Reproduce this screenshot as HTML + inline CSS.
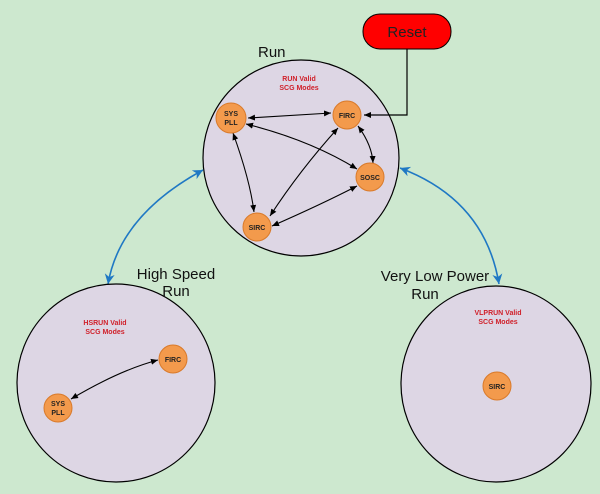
<!DOCTYPE html>
<html><head><meta charset="utf-8"><style>
html,body{margin:0;padding:0;background:#cde8cf;}
svg{display:block;font-family:"Liberation Sans",sans-serif;}
</style></head><body>
<svg width="600" height="494" viewBox="0 0 600 494" xmlns="http://www.w3.org/2000/svg">
<defs>
<marker id="a" markerWidth="8" markerHeight="8" refX="7" refY="4" orient="auto-start-reverse" markerUnits="userSpaceOnUse"><path d="M0,1 L7,4 L0,7 Z" fill="#000"/></marker>
<marker id="b" markerWidth="12" markerHeight="12" refX="10" refY="6" orient="auto-start-reverse" markerUnits="userSpaceOnUse"><path d="M0,1 L10,6 L0,11 L3,6 Z" fill="#1f78c4"/></marker>
</defs>
<rect width="600" height="494" fill="#cde8cf"/>
<!-- Run -->
<ellipse cx="301" cy="158" rx="98" ry="98" fill="#ddd6e4" stroke="#000" stroke-width="1.2"/>
<text x="258" y="57" font-size="15" fill="#111">Run</text>
<text x="299" y="81" font-size="7" font-weight="bold" fill="#d0202a" text-anchor="middle">RUN Valid</text>
<text x="299" y="90" font-size="7" font-weight="bold" fill="#d0202a" text-anchor="middle">SCG Modes</text>
<!-- Reset -->
<rect x="363" y="14" width="88" height="35" rx="17" fill="#ff0000" stroke="#000" stroke-width="1"/>
<text x="407" y="37" font-size="15" fill="#222" text-anchor="middle">Reset</text>
<path d="M407,49 V115 H364" fill="none" stroke="#000" stroke-width="1.2" marker-end="url(#a)"/>
<!-- arrows in run -->
<g fill="none" stroke="#000" stroke-width="1.1" marker-start="url(#a)" marker-end="url(#a)">
<path d="M248,118 L331,113"/>
<path d="M246,124 Q310,140 357,169"/>
<path d="M233,133 Q250,180 254,212"/>
<path d="M358,126 Q372,145 373,163"/>
<path d="M338,128 Q300,170 270,216"/>
<path d="M272,226 Q320,205 357,186"/>
</g>
<g fill="#f39a4c" stroke="#d97a2a" stroke-width="1">
<circle cx="231" cy="118" r="15"/><circle cx="347" cy="115" r="14"/>
<circle cx="370" cy="177" r="14"/><circle cx="257" cy="227" r="14"/>
</g>
<g font-size="7" font-weight="bold" fill="#222" text-anchor="middle">
<text x="231" y="116">SYS</text><text x="231" y="125">PLL</text>
<text x="347" y="118">FIRC</text><text x="370" y="180">SOSC</text><text x="257" y="230">SIRC</text>
</g>
<!-- blue arrows -->
<path d="M203,170 Q120,215 108,284" fill="none" stroke="#1f78c4" stroke-width="1.6" marker-start="url(#b)" marker-end="url(#b)"/>
<path d="M400,168 Q485,200 499,284" fill="none" stroke="#1f78c4" stroke-width="1.6" marker-start="url(#b)" marker-end="url(#b)"/>
<!-- HS -->
<ellipse cx="116" cy="383" rx="99" ry="99" fill="#ddd6e4" stroke="#000" stroke-width="1.2"/>
<text x="176" y="279" font-size="15" fill="#111" text-anchor="middle">High Speed</text>
<text x="176" y="296" font-size="15" fill="#111" text-anchor="middle">Run</text>
<text x="105" y="325" font-size="7" font-weight="bold" fill="#d0202a" text-anchor="middle">HSRUN Valid</text>
<text x="105" y="334" font-size="7" font-weight="bold" fill="#d0202a" text-anchor="middle">SCG Modes</text>
<path d="M71,399 Q120,370 158,360" fill="none" stroke="#000" stroke-width="1.1" marker-start="url(#a)" marker-end="url(#a)"/>
<g fill="#f39a4c" stroke="#d97a2a"><circle cx="173" cy="359" r="14"/><circle cx="58" cy="408" r="14"/></g>
<g font-size="7" font-weight="bold" fill="#222" text-anchor="middle">
<text x="173" y="362">FIRC</text><text x="58" y="406">SYS</text><text x="58" y="415">PLL</text></g>
<!-- VLP -->
<ellipse cx="496" cy="384" rx="95" ry="98" fill="#ddd6e4" stroke="#000" stroke-width="1.2"/>
<text x="435" y="281" font-size="15" fill="#111" text-anchor="middle">Very Low Power</text>
<text x="425" y="299" font-size="15" fill="#111" text-anchor="middle">Run</text>
<text x="498" y="315" font-size="7" font-weight="bold" fill="#d0202a" text-anchor="middle">VLPRUN Valid</text>
<text x="498" y="324" font-size="7" font-weight="bold" fill="#d0202a" text-anchor="middle">SCG Modes</text>
<circle cx="497" cy="386" r="14" fill="#f39a4c" stroke="#d97a2a"/>
<text x="497" y="389" font-size="7" font-weight="bold" fill="#222" text-anchor="middle">SIRC</text>
</svg>
</body></html>
